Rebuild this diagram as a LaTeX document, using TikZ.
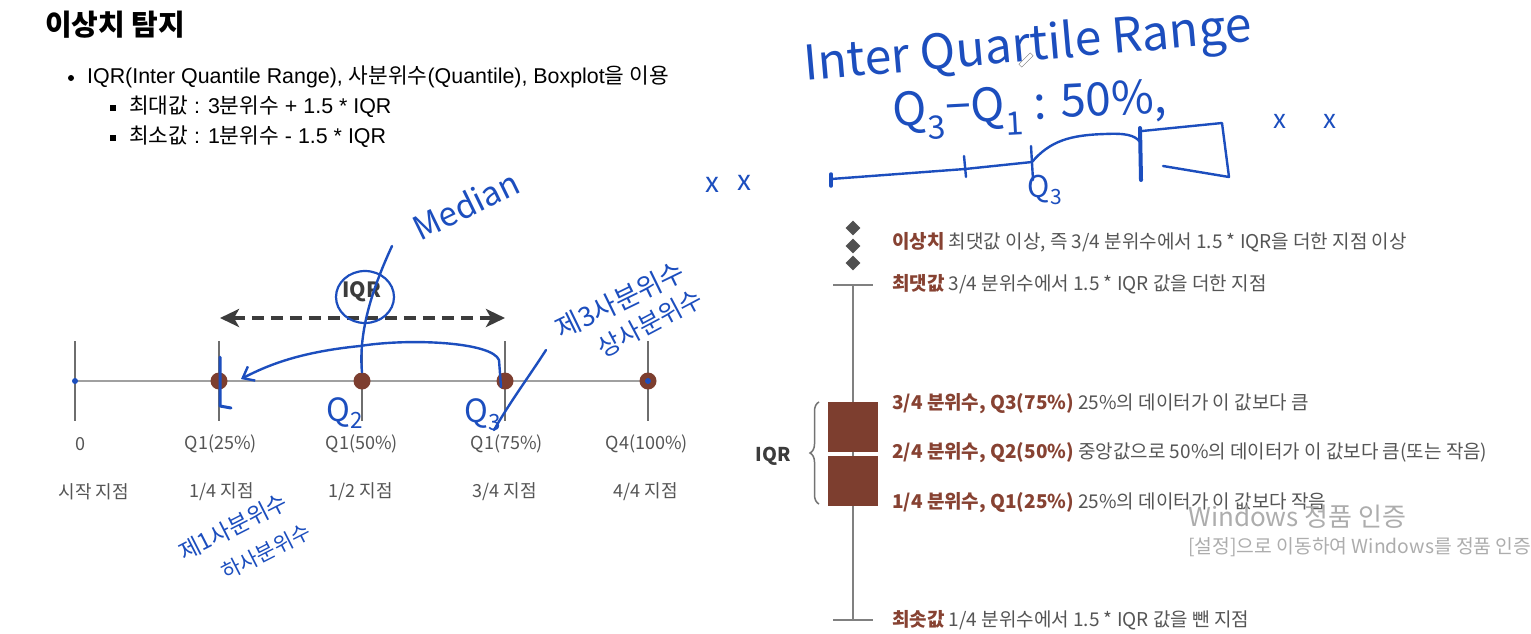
\documentclass[tikz,border=0pt]{standalone}
\usepackage{fontspec}
\setmainfont{Liberation Sans}
\newfontfamily\kr{Noto Sans CJK KR}
\usetikzlibrary{arrows.meta,decorations.pathreplacing,shapes.geometric}
\definecolor{inkc}{RGB}{28,78,190}
\definecolor{brn}{RGB}{125,62,47}
\definecolor{brntxt}{RGB}{135,66,50}
\definecolor{txtg}{RGB}{85,85,85}
\definecolor{axg}{RGB}{160,160,160}
\definecolor{tickg}{RGB}{110,110,110}
\definecolor{darkg}{RGB}{60,60,60}
\newcommand\hwf[1]{\kr\fontsize{#1}{#1}\selectfont}
\tikzset{
  ink/.style={draw=inkc, line width=2.4, line cap=round, line join=round},
  hw/.style={text=inkc, inner sep=0},
  lab/.style={text=txtg, font=\kr\fontsize{18}{20}\selectfont, inner sep=0},
  rt/.style={anchor=west, text=txtg, font=\kr\fontsize{19}{21}\selectfont, inner sep=0},
  qdot/.style={circle, fill=brn, minimum size=17, inner sep=0},
  tickl/.style={draw=tickg, line width=1.8},
  axisl/.style={draw=axg, line width=2.2},
  toptxt/.style={anchor=west, inner sep=0, text=black, font=\fontsize{21.4}{25}\selectfont},
  bx/.style={rectangle, fill=brn, minimum width=50, minimum height=50, inner sep=0},
  dia/.style={diamond, fill=darkg!90, minimum width=15, minimum height=15, inner sep=0},
  wm/.style={anchor=west, inner sep=0, text=black!32, font=\kr},
}
\begin{document}
\begin{tikzpicture}[x=1pt,y=-1pt]
\useasboundingbox[fill=white] (0,0) rectangle (1531,633);

% ---------- top-left text ----------
\node[anchor=west, inner sep=0, font=\kr\bfseries\fontsize{29}{32}\selectfont] (title) at (45,25) {이상치 탐지};
\node[circle, fill=black, inner sep=0, minimum size=6] (bul1) at (71,78) {};
\node[toptxt] (line1) at (87,77) {IQR(Inter Quantile Range), {\kr 사분위수}(Quantile), Boxplot{\kr 을 이용}};
\node[rectangle, fill=black, inner sep=0, minimum size=6] (bul2) at (113,108) {};
\node[toptxt] (line2) at (129,107) {{\kr 최대값} : 3{\kr 분위수} + 1.5 * IQR};
\node[rectangle, fill=black, inner sep=0, minimum size=6] (bul3) at (113,138) {};
\node[toptxt] (line3) at (129,137) {{\kr 최소값} : 1{\kr 분위수} - 1.5 * IQR};

% ---------- left axis diagram ----------
\coordinate (a0) at (75,381);
\coordinate (a4) at (648,381);
\draw[axisl] (a0) -- (a4);
\foreach \x/\n in {75/0,219/1,362/2,505/3,648/4}{
  \coordinate (tt\n) at (\x,341);
  \coordinate (tb\n) at (\x,421);
  \draw[tickl] (tt\n) -- (tb\n);
}
\node[qdot] (q1) at (219,381) {};
\node[qdot] (q2) at (362,381) {};
\node[qdot] (q3) at (505,381) {};
\node[qdot] (q4) at (648,381) {};

\node[lab] (l0) at (80,444) {0};
\node[lab] (l1) at (221,444) {Q1(25\%)};
\node[lab] (l2) at (362,444) {Q1(50\%)};
\node[lab] (l3) at (507,444) {Q1(75\%)};
\node[lab] (l4) at (647,444) {Q4(100\%)};
\node[lab] (m0) at (94,492) {시작 지점};
\node[lab] (m1) at (222,492) {1/4 지점};
\node[lab] (m2) at (361,492) {1/2 지점};
\node[lab] (m3) at (505,492) {3/4 지점};
\node[lab] (m4) at (646,492) {4/4 지점};

\node[inner sep=0, text=darkg, font=\kr\bfseries\fontsize{21}{24}\selectfont] (iqrl) at (362,292) {IQR};
\coordinate (arl) at (220,318);
\coordinate (arr) at (505,318);
\draw[draw=darkg, line width=4, dash pattern=on 12 off 7,
      {Stealth[length=19,width=18,inset=5]}-{Stealth[length=19,width=18,inset=5]}] (arl) -- (arr);

% ---------- right box plot ----------
\coordinate (wtop) at (853,285);
\coordinate (wbot) at (853,620);
\coordinate (c1l) at (833,285); \coordinate (c1r) at (873,285);
\coordinate (c2l) at (833,620); \coordinate (c2r) at (873,620);
\draw[draw=black!50, line width=2] (wtop) -- (wbot);
\draw[draw=black!50, line width=2] (c1l) -- (c1r);
\draw[draw=black!50, line width=2] (c2l) -- (c2r);
\node[bx] (bxu) at (853,427) {};
\node[bx] (bxl) at (853,481) {};
\node[dia] (dm1) at (853,228) {};
\node[dia] (dm2) at (853,246) {};
\node[dia] (dm3) at (853,263) {};
\coordinate (brb) at (819,504);
\coordinate (brt) at (819,402);
\draw[draw=black!55, line width=1.5, decorate, decoration={brace, amplitude=9}] (brb) -- (brt);
\node[inner sep=0, text=darkg, font=\kr\bfseries\fontsize{19}{22}\selectfont] (iqrr) at (773,456) {IQR};

\node[rt] (r1) at (892,242) {{\color{brntxt}\bfseries 이상치} 최댓값 이상, 즉 3/4 분위수에서 1.5 * IQR을 더한 지점 이상};
\node[rt] (r2) at (892,284) {{\color{brntxt}\bfseries 최댓값} 3/4 분위수에서 1.5 * IQR 값을 더한 지점};
\node[rt] (r3) at (892,404) {{\color{brntxt}\bfseries 3/4 분위수, Q3(75\%)} 25\%의 데이터가 이 값보다 큼};
\node[rt] (r4) at (892,453) {{\color{brntxt}\bfseries 2/4 분위수, Q2(50\%)} 중앙값으로 50\%의 데이터가 이 값보다 큼(또는 작음)};
\node[rt] (r5) at (892,503) {{\color{brntxt}\bfseries 1/4 분위수, Q1(25\%)} 25\%의 데이터가 이 값보다 작음};
\node[rt] (r6) at (892,620) {{\color{brntxt}\bfseries 최솟값} 1/4 분위수에서 1.5 * IQR 값을 뺀 지점};

% watermark
\node[wm, font=\kr\fontsize{26}{28}\selectfont] (wm1) at (1188,517) {Windows 정품 인증};
\node[wm, font=\kr\fontsize{19.3}{21}\selectfont] (wm2) at (1188,547) {[설정]으로 이동하여 Windows를 정품 인증};

% ---------- handwritten annotations (left) ----------
\node[circle, fill=inkc, inner sep=0, minimum size=6] (bd0) at (75,381) {};
\node[circle, fill=inkc, inner sep=0, minimum size=6] (bd4) at (648,381) {};
\coordinate (q1a) at (220,357);
\coordinate (q1b) at (220,406);
\coordinate (q1c) at (231,408);
\draw[ink, line width=3] (q1a) -- (q1b) -- (q1c);

\node[ellipse, draw=inkc, line width=2.2, minimum width=58, minimum height=52, inner sep=0] (circ) at (365,297) {};
\node[hw, font=\hwf{33}, rotate=26] (median) at (466,205) {Median};
\coordinate (medtail) at (392,246);
\draw[ink] (medtail) .. controls (374,285) and (358,330) .. (q2.north);

\coordinate (arcs) at (501,387);
\coordinate (arcm) at (499,360);
\coordinate (arce) at (241,379);
\draw[ink, -{Straight Barb[length=10,width=16]}] (arcs) -- (arcm) .. controls (492,342) and (410,338) .. (360,346) .. controls (300,352) and (268,365) .. (arce);

\node[hw, font=\hwf{32}] (hq2) at (345,413) {Q\textsubscript{2}};
\node[hw, font=\hwf{32}] (hq3) at (483,415) {Q\textsubscript{3}};
\coordinate (sl1) at (546,350);
\coordinate (sl2) at (494,430);
\draw[ink] (sl1) .. controls (530,375) and (510,402) .. (sl2);

\node[hw, font=\hwf{27}, rotate=26] (h3a) at (620,300) {제3사분위수};
\node[hw, font=\hwf{25}, rotate=28] (h3b) at (650,323) {상사분위수};
\node[hw, font=\hwf{23}, rotate=27] (h1a) at (233,527) {제1사분위수};
\node[hw, font=\hwf{21}, rotate=27] (h1b) at (266,552) {하사분위수};

% ---------- handwritten annotations (top right) ----------
\node[hw, font=\hwf{48}, rotate=5] (iqrhw) at (1028,48) {Inter Quartile Range};
\node[hw, font=\hwf{46}, rotate=3] (q31) at (1030,110) {Q\textsubscript{3}−Q\textsubscript{1} : 50\%,};
\node[draw=black!55, fill=white, rotate=45, minimum width=16, minimum height=4, inner sep=0] (pencil) at (1026,60) {};

\node[hw, font=\hwf{28}] (xl1) at (712,185) {x};
\node[hw, font=\hwf{28}] (xl2) at (744,183) {x};
\node[hw, font=\hwf{26}] (xr1) at (1280,121) {x};
\node[hw, font=\hwf{26}] (xr2) at (1330,121) {x};

\coordinate (s0) at (831,179);
\coordinate (s0a) at (831,174);
\coordinate (s0b) at (831,186);
\coordinate (s1) at (965,169);
\coordinate (s1a) at (964,156);
\coordinate (s1b) at (966,177);
\coordinate (s2) at (1032,162);
\coordinate (s2a) at (1031,146);
\coordinate (s2b) at (1033,180);
\coordinate (s3a) at (1140,128);
\coordinate (s3b) at (1141,180);
\coordinate (bx1) at (1142,131);
\coordinate (bx2) at (1222,123);
\coordinate (bx3) at (1229,177);
\coordinate (bx4) at (1163,166);
\draw[ink] (s0) -- (s1) -- (s2);
\draw[ink, line width=3.5] (s0a) -- (s0b);
\draw[ink] (s1a) -- (s1b);
\draw[ink] (s2a) -- (s2b);
\draw[ink] (s2) .. controls (1050,141) and (1070,135) .. (1105,134) .. controls (1125,133) and (1135,135) .. (1140,142);
\draw[ink, line width=4] (s3a) -- (s3b);
\draw[ink] (bx1) -- (bx2) -- (bx3) -- (bx4);
\node[hw, font=\hwf{30}] (hq3b) at (1045,190) {Q\textsubscript{3}};

\end{tikzpicture}
\end{document}
